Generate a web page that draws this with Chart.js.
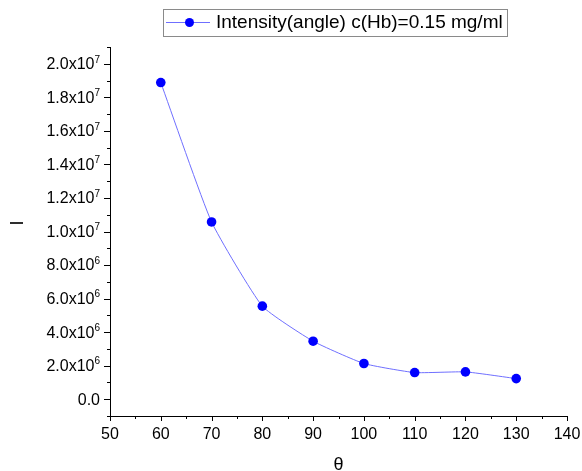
<!DOCTYPE html>
<html>
<head>
<meta charset="utf-8">
<script src="https://cdn.jsdelivr.net/npm/chart.js@4/dist/chart.umd.min.js"></script>
<style>
  html, body { margin: 0; padding: 0; background: #fff; }
  canvas { display: block; }
</style>
</head>
<body>
<canvas id="grafico" width="582" height="471"></canvas>
<script>
// dados
const angles = [60, 70, 80, 90, 100, 110, 120, 130];
const intensity = [1.888e7, 1.057e7, 5.55e6, 3.46e6, 2.13e6, 1.59e6, 1.63e6, 1.23e6];

const seriesLabel = 'Intensity(angle) c(Hb)=0.15 mg/ml';
const xTitle = 'θ';
const yTitle = 'I';

const xTicks = [50, 60, 70, 80, 90, 100, 110, 120, 130, 140];
const xMinor = [55, 65, 75, 85, 95, 105, 115, 125, 135];
const yTicks = [0, 2e6, 4e6, 6e6, 8e6, 1e7, 1.2e7, 1.4e7, 1.6e7, 1.8e7, 2e7];
const yTickBase = ['0.0', '2.0x10', '4.0x10', '6.0x10', '8.0x10', '1.0x10', '1.2x10', '1.4x10', '1.6x10', '1.8x10', '2.0x10'];
const yTickExp = ['', '6', '6', '6', '6', '7', '7', '7', '7', '7', '7'];
const yMinor = [-1e6, 1e6, 3e6, 5e6, 7e6, 9e6, 1.1e7, 1.3e7, 1.5e7, 1.7e7, 1.9e7, 2.1e7];

const FONT = 'Arial, "Liberation Sans", sans-serif';
const lineColor = '#6f6fff';
const pointColor = '#0000ff';

// desenha ticks, rótulos com expoente, títulos e legenda no estilo Origin
const eixosOrigin = {
  id: 'eixosOrigin',
  afterDraw(chart) {
    const ctx = chart.ctx;
    const xs = chart.scales.x, ys = chart.scales.y;
    const area = chart.chartArea;
    ctx.save();
    ctx.strokeStyle = '#000';
    ctx.lineWidth = 1;
    ctx.beginPath();
    xTicks.forEach(v => {
      const px = Math.round(xs.getPixelForValue(v)) + 0.5;
      ctx.moveTo(px, area.bottom); ctx.lineTo(px, area.bottom + 5);
    });
    xMinor.forEach(v => {
      const px = Math.round(xs.getPixelForValue(v)) + 0.5;
      ctx.moveTo(px, area.bottom); ctx.lineTo(px, area.bottom + 3);
    });
    yTicks.forEach(v => {
      const py = Math.round(ys.getPixelForValue(v)) + 0.5;
      ctx.moveTo(area.left, py); ctx.lineTo(area.left - 6, py);
    });
    yMinor.forEach(v => {
      const py = Math.round(ys.getPixelForValue(v)) + 0.5;
      ctx.moveTo(area.left, py); ctx.lineTo(area.left - 3, py);
    });
    ctx.stroke();

    ctx.fillStyle = '#000';
    ctx.font = '16px ' + FONT;
    ctx.textAlign = 'center';
    ctx.textBaseline = 'middle';
    xTicks.forEach(v => {
      ctx.fillText(String(v), xs.getPixelForValue(v), area.bottom + 19);
    });

    // rótulos do eixo y com sobrescrito
    yTicks.forEach((v, i) => {
      const py = ys.getPixelForValue(v);
      const right = area.left - 10;
      ctx.font = '16px ' + FONT;
      const wb = ctx.measureText(yTickBase[i]).width;
      ctx.font = '10px ' + FONT;
      const we = yTickExp[i] ? ctx.measureText(yTickExp[i]).width : 0;
      ctx.textAlign = 'left';
      ctx.font = '16px ' + FONT;
      ctx.fillText(yTickBase[i], right - wb - we, py + 1);
      if (yTickExp[i]) {
        ctx.font = '10px ' + FONT;
        ctx.fillText(yTickExp[i], right - we, py - 4);
      }
    });

    // títulos
    ctx.font = '18px ' + FONT;
    ctx.textAlign = 'center';
    ctx.fillText(xTitle, (area.left + area.right) / 2, 465);
    ctx.save();
    ctx.translate(18, 223);
    ctx.rotate(-Math.PI / 2);
    ctx.fillText(yTitle, 0, 0);
    ctx.restore();

    // legenda com caixa
    ctx.strokeStyle = '#8a8a8a';
    ctx.strokeRect(163.5, 9.5, 344, 27);
    ctx.strokeStyle = lineColor;
    ctx.beginPath();
    ctx.moveTo(166, 22.5); ctx.lineTo(210, 22.5);
    ctx.stroke();
    ctx.fillStyle = pointColor;
    ctx.beginPath();
    ctx.arc(189.5, 22.5, 4.5, 0, Math.PI * 2);
    ctx.fill();
    ctx.fillStyle = '#000';
    ctx.font = '19px ' + FONT;
    ctx.textAlign = 'left';
    ctx.fillText(seriesLabel, 216, 23);
    ctx.restore();
  }
};

new Chart(document.getElementById('grafico'), {
  type: 'scatter',
  data: {
    datasets: [{
      label: seriesLabel,
      data: angles.map((a, i) => ({ x: a, y: intensity[i] })),
      showLine: true,
      borderColor: lineColor,
      borderWidth: 1,
      tension: 0.15,
      pointRadius: 4.8,
      pointBorderWidth: 0,
      pointBackgroundColor: pointColor,
      pointBorderColor: pointColor
    }]
  },
  options: {
    responsive: false,
    animation: false,
    devicePixelRatio: 1,
    layout: { autoPadding: false, padding: { left: 110, top: 47, right: 15, bottom: 55 } },
    plugins: {
      legend: { display: false },
      tooltip: { enabled: false }
    },
    scales: {
      x: {
        type: 'linear',
        min: 50,
        max: 140,
        grid: { display: false, drawTicks: false },
        ticks: { display: false },
        border: { display: true, color: '#000', width: 1 }
      },
      y: {
        type: 'linear',
        min: -1e6,
        max: 2.1e7,
        grid: { display: false, drawTicks: false },
        ticks: { display: false },
        border: { display: true, color: '#000', width: 1 }
      }
    }
  },
  plugins: [eixosOrigin]
});
</script>
</body>
</html>
